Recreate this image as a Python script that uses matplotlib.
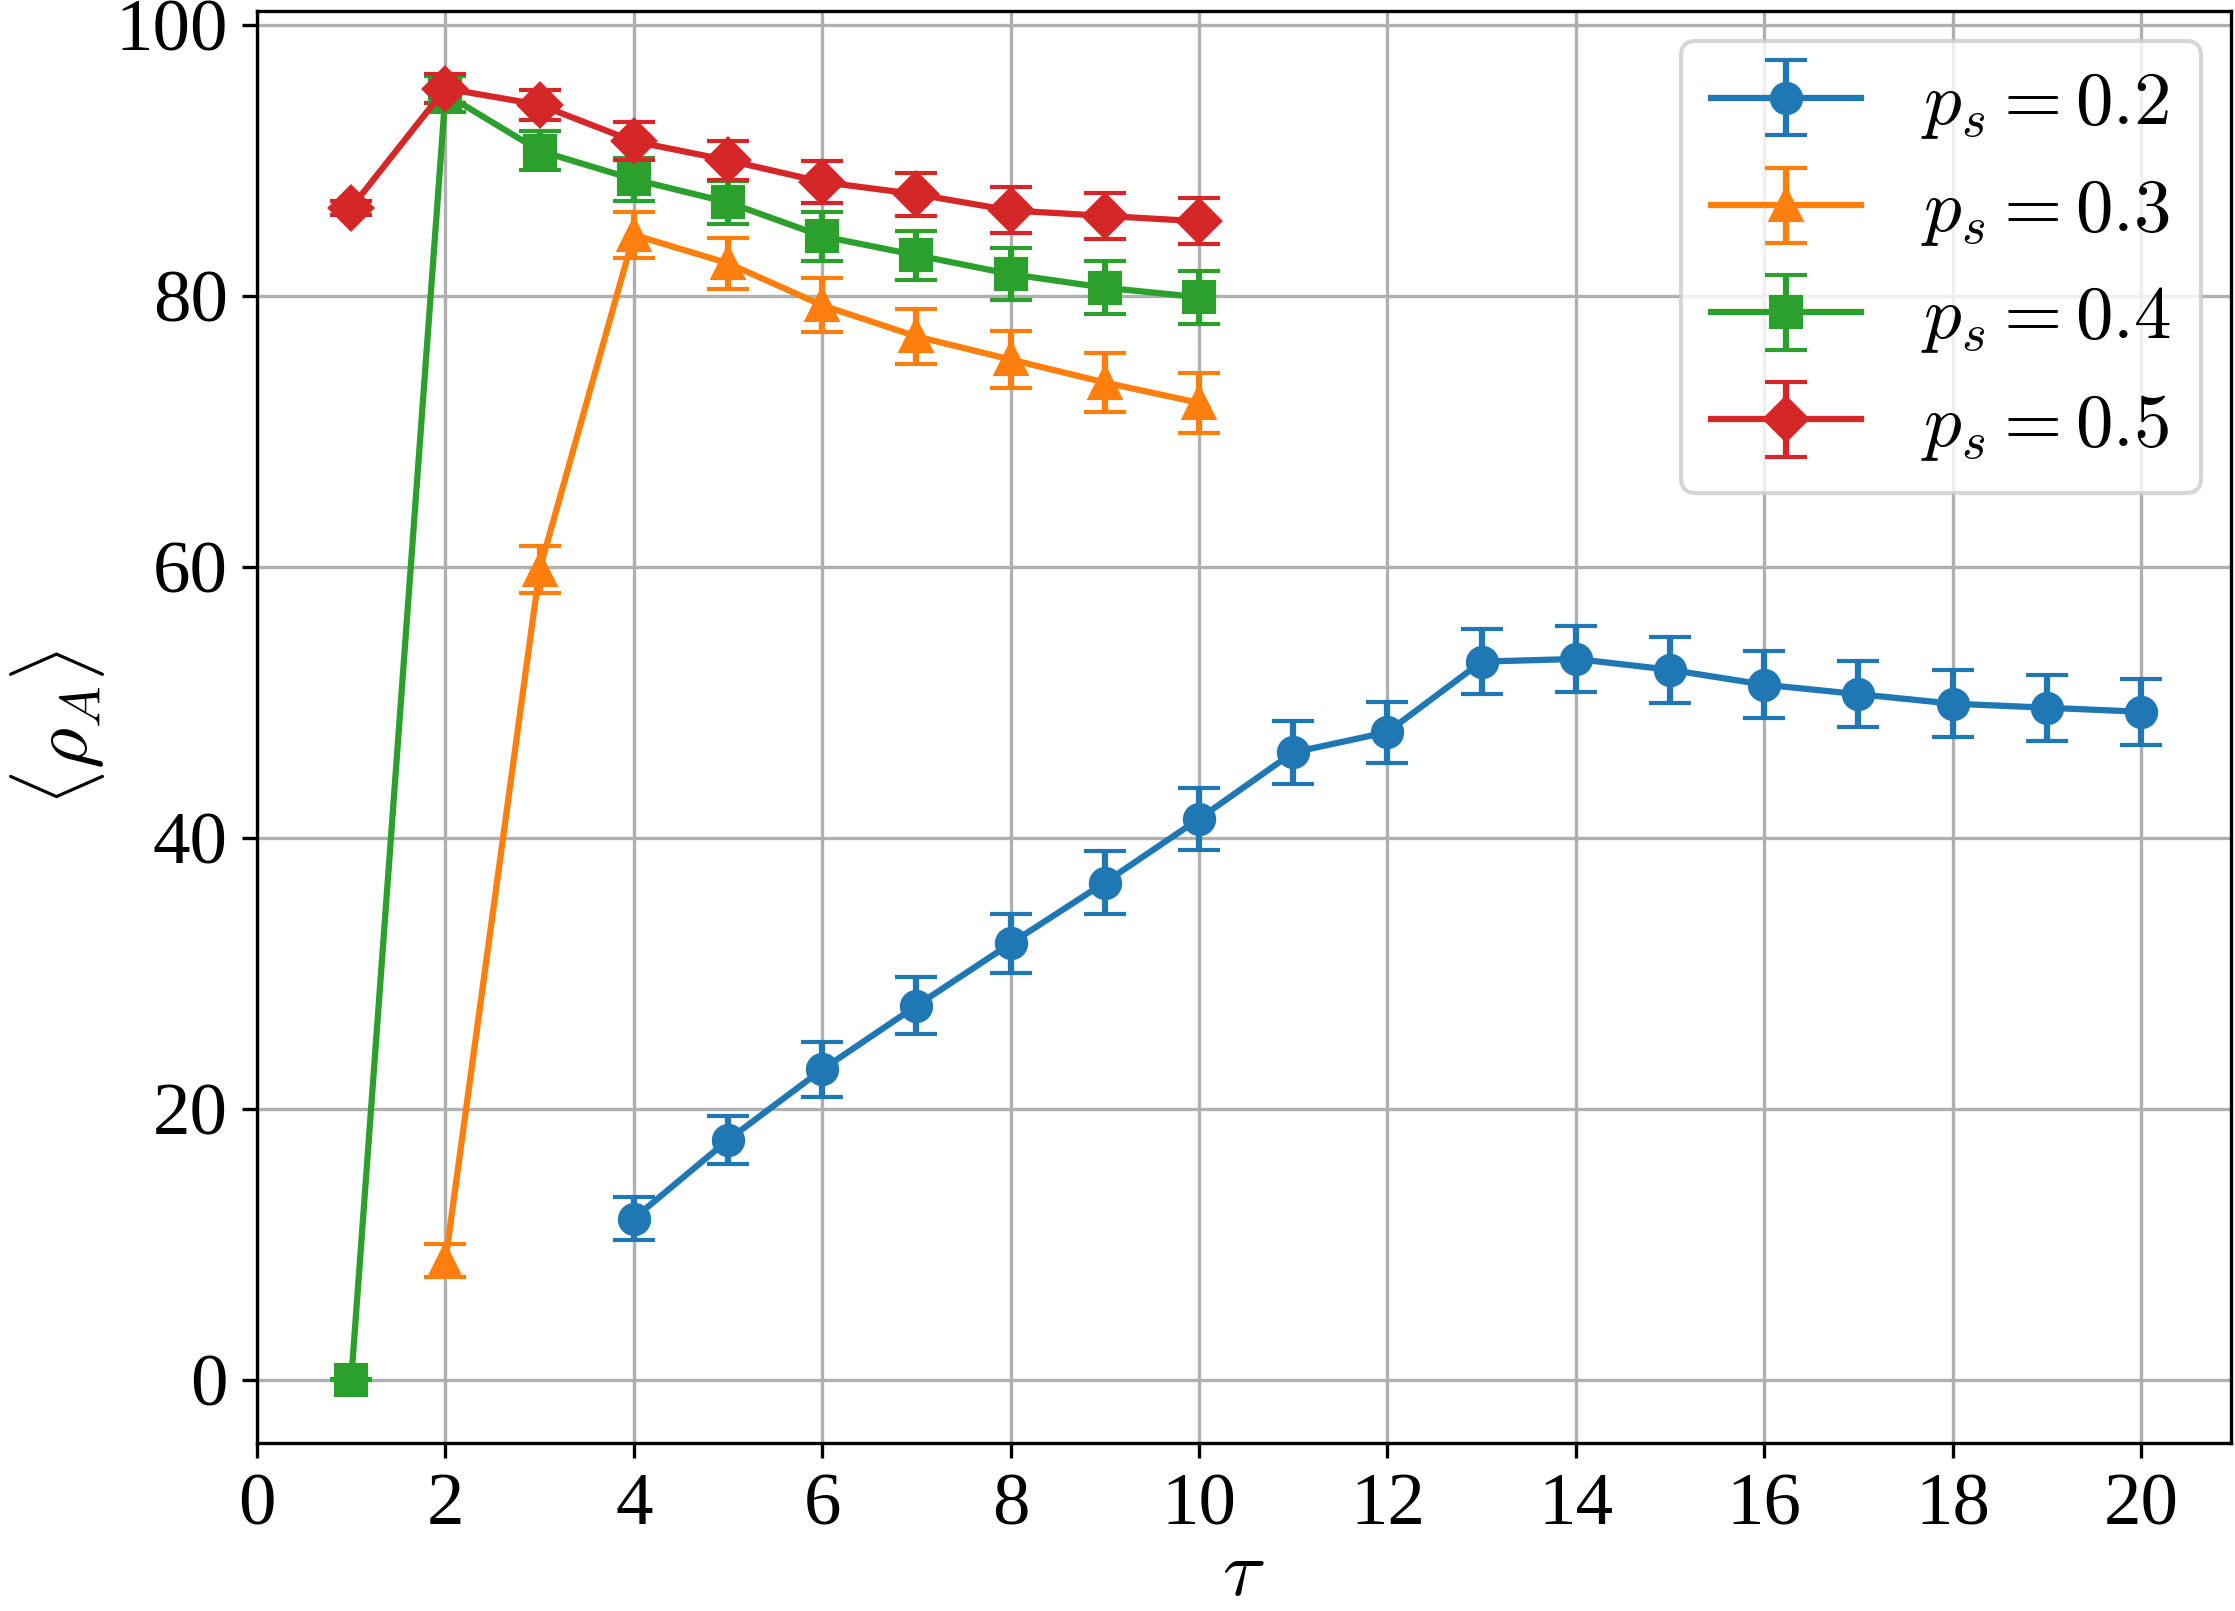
import numpy as np
import matplotlib
matplotlib.use('Agg')
import matplotlib.pyplot as plt

plt.rcParams['font.family'] = 'serif'
plt.rcParams['font.serif'] = ['Liberation Serif', 'DejaVu Serif']
plt.rcParams['mathtext.fontset'] = 'cm'

# values
tau_02 = list(range(4, 21))
rho_02 = [11.9, 17.7, 22.9, 27.6, 32.2, 36.7, 41.4, 46.3, 47.8, 53.0, 53.2,
          52.4, 51.3, 50.6, 49.9, 49.6, 49.3]
err_02 = [1.6, 1.8, 2.0, 2.1, 2.2, 2.3, 2.3, 2.3, 2.25, 2.4, 2.45,
          2.45, 2.45, 2.45, 2.45, 2.45, 2.45]

tau_03 = list(range(2, 11))
rho_03 = [8.8, 59.8, 84.5, 82.4, 79.3, 77.0, 75.3, 73.6, 72.1]
err_03 = [1.25, 1.75, 1.7, 1.9, 2.0, 2.05, 2.1, 2.2, 2.2]

tau_04 = list(range(1, 11))
rho_04 = [0.0, 94.9, 90.7, 88.6, 86.9, 84.4, 83.0, 81.6, 80.6, 79.9]
err_04 = [0.05, 1.3, 1.45, 1.6, 1.6, 1.8, 1.8, 1.9, 1.95, 1.95]

tau_05 = list(range(1, 11))
rho_05 = [86.5, 95.3, 94.1, 91.4, 90.0, 88.4, 87.5, 86.3, 85.9, 85.5]
err_05 = [0.5, 1.1, 1.1, 1.4, 1.45, 1.55, 1.6, 1.7, 1.7, 1.7]

series = [
    (tau_02, rho_02, err_02, 'o', r'$p_s = 0.2$'),
    (tau_03, rho_03, err_03, '^', r'$p_s = 0.3$'),
    (tau_04, rho_04, err_04, 's', r'$p_s = 0.4$'),
    (tau_05, rho_05, err_05, 'D', r'$p_s = 0.5$'),
]

fig, ax = plt.subplots(figsize=(7.45, 5.37), dpi=300)
fig.subplots_adjust(left=0.115, right=0.998, bottom=0.104, top=0.993)

for t, r, e, m, lab in series:
    ax.errorbar(t, r, yerr=e, marker=m, markersize=7, capsize=5, linewidth=1.5, label=lab)

ax.set_xlim(0, 20.95)
ax.set_ylim(-4.7, 101.0)
ax.set_xticks(np.arange(0, 21, 2))
ax.set_yticks(np.arange(0, 101, 20))
ax.tick_params(labelsize=18)
ax.grid(True)
ax.set_xlabel(r'$\tau$', fontsize=19, labelpad=0)
ax.set_ylabel(r'$\langle \rho_A \rangle$', fontsize=19, labelpad=2)
ax.legend(loc='upper right', fontsize=18, handlelength=2.0, borderaxespad=0.4)

fig.savefig('out.png', dpi=300)
